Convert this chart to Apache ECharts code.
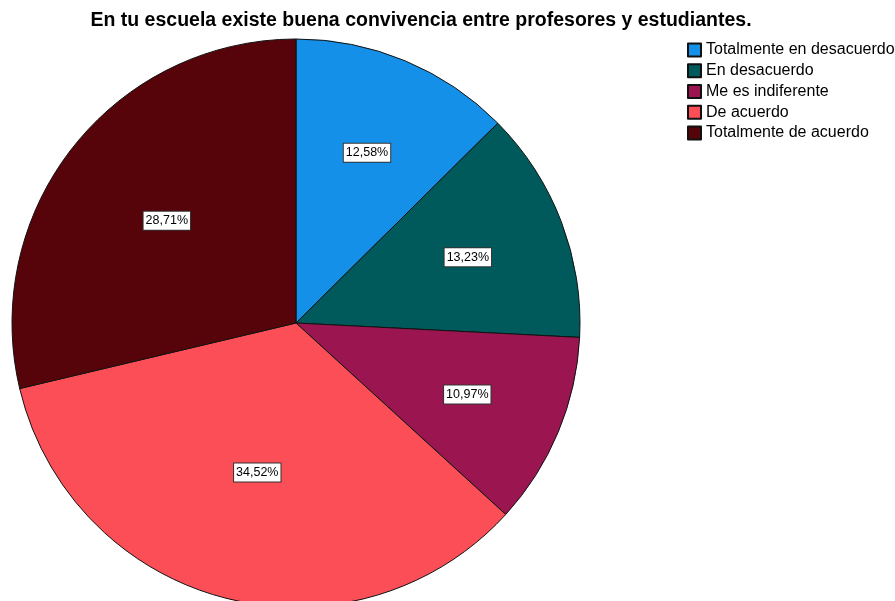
<!DOCTYPE html>
<html>
<head>
<meta charset="utf-8">
<script src="https://cdn.jsdelivr.net/npm/echarts@6/dist/echarts.min.js"></script>
<style>
  html, body { margin: 0; padding: 0; background: #fff; }
  #main { width: 895px; height: 601px; }
</style>
</head>
<body>
<div id="main"></div>
<script>
// datos
var categorias = ['Totalmente en desacuerdo', 'En desacuerdo', 'Me es indiferente', 'De acuerdo', 'Totalmente de acuerdo'];
var porcentajes = [12.58, 13.23, 10.97, 34.52, 28.71];
var colores = ['#1590e8', '#005a5c', '#9b1651', '#fb4e57', '#560409'];

(function () {
    'use strict';
    var myChart = echarts.init(document.getElementById('main'));
    var cx = 296, cy = 323, R = 284;
    var total = porcentajes.reduce(function (a, b) { return a + b; }, 0);

    // etiqueta en el centroide de cada sector
    function centroide(i) {
        var antes = 0;
        for (var k = 0; k < i; k++) antes += porcentajes[k];
        var a0 = antes / total * 2 * Math.PI;
        var th = porcentajes[i] / total * 2 * Math.PI;
        var mid = a0 + th / 2;
        var h = th / 2;
        var d = 2 / 3 * R * Math.sin(h) / h;
        return { x: cx + d * Math.sin(mid), y: cy - d * Math.cos(mid) };
    }

    var option = {
        animation: false,
        title: {
            text: 'En tu escuela existe buena convivencia entre profesores y estudiantes.',
            left: 421,
            textAlign: 'center',
            top: 11,
            padding: 0,
            textStyle: {
                fontFamily: 'Liberation Sans, Arial, sans-serif',
                fontSize: 19.5,
                fontWeight: 'bold',
                color: '#000'
            }
        },
        legend: {
            orient: 'vertical',
            left: 687,
            top: 42,
            padding: 0,
            icon: 'rect',
            itemWidth: 13,
            itemHeight: 13,
            itemGap: 4.75,
            textStyle: {
                fontFamily: 'Liberation Sans, Arial, sans-serif',
                fontSize: 16,
                lineHeight: 16,
                color: '#000'
            },
            data: categorias
        },
        series: [{
            type: 'pie',
            center: [cx, cy],
            radius: R,
            startAngle: 90,
            clockwise: true,
            itemStyle: {
                borderColor: '#111',
                borderWidth: 1
            },
            label: {
                show: true,
                position: 'inside',
                formatter: function (p) {
                    return p.value.toFixed(2).replace('.', ',') + '%';
                },
                fontFamily: 'Liberation Sans, Arial, sans-serif',
                fontSize: 12.5,
                color: '#000',
                backgroundColor: '#fff',
                borderColor: '#333',
                borderWidth: 1,
                padding: [3, 2, 2, 2]
            },
            labelLayout: function (params) {
                var c = centroide(params.dataIndex);
                return { x: c.x, y: c.y, align: 'center', verticalAlign: 'middle' };
            },
            emphasis: { disabled: true },
            data: categorias.map(function (n, i) {
                return { name: n, value: porcentajes[i], itemStyle: { color: colores[i] } };
            })
        }]
    };
    myChart.setOption(option);
    window.addEventListener('resize', function () {
        myChart.resize();
    });
})();
</script>
</body>
</html>
